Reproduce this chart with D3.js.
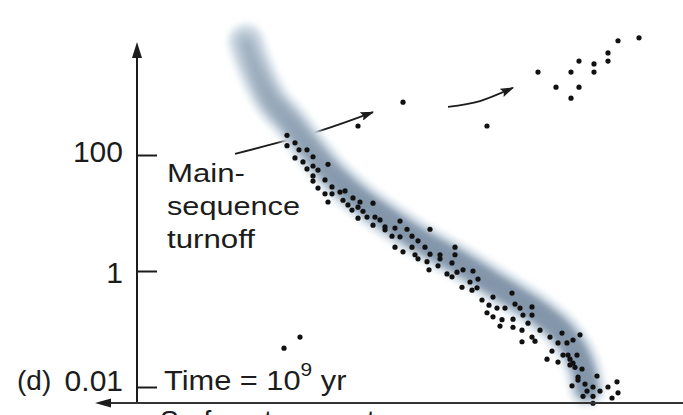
<!DOCTYPE html>
<html>
<head>
<meta charset="utf-8">
<script src="https://cdn.jsdelivr.net/npm/d3@7"></script>
<style>
  html, body { margin: 0; padding: 0; background: #fff; overflow: hidden; }
  svg { display: block; font-family: "Liberation Sans", Arial, Helvetica, sans-serif; }
</style>
</head>
<body>
<svg id="chart" width="683" height="415"></svg>
<script>
// Cluster H–R diagram at t = 1e9 yr.
// Abscissa: temperature index (0 = hot, left; 100 = cool, right).
// Ordinate: log10 of luminosity in solar units.

// main-sequence stars
const msTemp = [
  37.4, 37.4, 39.0, 39.8, 41.4, 39.0, 40.6, 42.6, 42.6, 41.4, 45.6, 43.6,
  42.6, 45.0, 42.6, 43.6, 46.4, 45.0, 46.4, 48.0, 49.0, 45.6, 48.6, 50.6,
  49.6, 52.0, 54.6, 51.6, 52.6, 50.4, 53.4, 55.0, 56.0, 51.6, 54.6, 57.0,
  60.0, 57.0, 59.0, 61.4, 58.4, 60.0, 62.4, 63.6, 66.0, 59.0, 60.6, 62.4,
  63.0, 65.0, 66.0, 63.6, 65.4, 68.0, 68.0, 71.0, 71.0, 70.4, 65.8, 67.6,
  69.4, 71.4, 70.4, 72.6, 74.6, 74.0, 75.6, 72.4, 74.4, 75.4,
  82.4, 78.6, 76.4, 77.8, 79.4, 81.0, 83.0, 84.0, 84.6, 86.4, 86.4, 77.4,
  78.6, 80.4, 82.6, 80.0, 82.6, 85.6, 84.4, 88.0, 84.4, 86.4, 87.0, 90.0,
  92.4, 91.6, 93.4, 94.6, 96.0, 90.4, 89.4, 91.6, 92.6, 93.6, 94.0, 95.4,
  94.6, 94.0, 95.0, 96.4, 95.6, 95.6, 99.4, 94.4, 97.0, 98.6, 97.4, 100.0,
  101.6, 103.4, 96.6, 98.6, 103.6, 102.4, 98.6
];
const msLogL = [
  2.34, 2.16, 2.21, 2.09, 2.09, 1.95, 1.88, 1.97, 1.81, 1.76, 1.84, 1.74,
  1.64, 1.57, 1.55, 1.43, 1.45, 1.33, 1.33, 1.36, 1.38, 1.19, 1.22, 1.26,
  1.14, 1.19, 1.17, 1.10, 1.03, 1.05, 0.93, 0.93, 0.88, 0.91, 0.79, 0.76,
  0.86, 0.71, 0.74, 0.72, 0.60, 0.59, 0.60, 0.52, 0.72, 0.41, 0.33, 0.41,
  0.28, 0.41, 0.29, 0.21, 0.16, 0.28, 0.21, 0.41, 0.28, 0.14, 0.02, 0.09,
  -0.05, -0.02, -0.10, 0.02, 0.00, -0.19, -0.14, -0.28, -0.33, -0.29,
  -0.38, -0.45, -0.50, -0.59, -0.64, -0.64, -0.57, -0.64, -0.76, -0.62, -0.76, -0.72,
  -0.79, -0.84, -0.83, -0.95, -0.97, -0.90, -1.02, -1.02, -1.22, -1.14, -1.21, -1.14,
  -1.07, -1.24, -1.24, -1.19, -1.10, -1.38, -1.52, -1.57, -1.45, -1.45, -1.52, -1.45,
  -1.59, -1.62, -1.66, -1.69, -1.83, -1.88, -1.81, -1.98, -1.95, -2.00, -2.07, -2.07,
  -2.00, -1.91, -2.16, -2.16, -2.10, -2.19, -2.28
];

// evolved stars (subgiants and giants)
const giantTemp = [60.6, 51.6, 77.4, 87.6, 91.2, 94.2, 95.8, 95.8, 94.2, 98.8, 98.8, 101.6, 101.6, 103.6, 107.8];
const giantLogL = [2.91, 2.50, 2.50, 3.43, 3.17, 3.43, 3.62, 3.17, 2.98, 3.57, 3.43, 3.76, 3.62, 3.97, 4.02];

// white dwarfs
const dwarfTemp = [36.8, 40.0];
const dwarfLogL = [-1.33, -1.14];

// zero-age main sequence (shaded band)
const zamsTemp = [29.2, 31.2, 34.2, 38.0, 42.0, 46.0, 51.0, 57.0, 64.0, 72.0, 80.0, 87.0, 92.0, 95.2, 96.8, 97.4];
const zamsLogL = [3.95, 3.47, 2.95, 2.57, 2.12, 1.71, 1.31, 0.93, 0.53, 0.14, -0.29, -0.67, -1.02, -1.40, -1.74, -2.02];

// luminosity ticks
const tickLogL = [-2, 0, 2];
const tickLabels = ["0.01", "1", "100"];

// annotation arrows (temperature index, log L)
const turnoffArrow = [[27.0, 2.02], [42.6, 2.38], [54.6, 2.74]];
const giantArrow = [[69.6, 2.83], [76.0, 2.93], [82.6, 3.16]];

const svg = d3.select("#chart");
const x = d3.scaleLinear().domain([0, 100]).range([100, 600]);
const y = d3.scaleLinear().domain([-2, 2]).range([387, 155]);

const axisX = 137, axisTop = 42, baseY = 403, baseLeft = 95;
const ink = "#1c1c1c";

const defs = svg.append("defs");
const blur = defs.append("filter").attr("id", "soft")
  .attr("x", "-20%").attr("y", "-20%").attr("width", "140%").attr("height", "140%");
blur.append("feGaussianBlur").attr("stdDeviation", 3.2);
const blur2 = defs.append("filter").attr("id", "soft2")
  .attr("x", "-20%").attr("y", "-20%").attr("width", "140%").attr("height", "140%");
blur2.append("feGaussianBlur").attr("stdDeviation", 4.5);

const grad = defs.append("linearGradient").attr("id", "bandGrad")
  .attr("gradientUnits", "userSpaceOnUse")
  .attr("x1", 0).attr("y1", 30).attr("x2", 0).attr("y2", 200);
grad.append("stop").attr("offset", 0).attr("stop-color", "#bccad6");
grad.append("stop").attr("offset", 1).attr("stop-color", "#8699ad");

const head = defs.append("marker").attr("id", "head")
  .attr("viewBox", "0 0 12 8").attr("refX", 11).attr("refY", 4)
  .attr("markerUnits", "userSpaceOnUse")
  .attr("markerWidth", 14).attr("markerHeight", 9).attr("orient", "auto");
head.append("path").attr("d", "M0,0 L12,4 L0,8 L2,4 Z").attr("fill", ink);

// annotation arrows (drawn under the band)
const arrowLine = d3.line().x(d => x(d[0])).y(d => y(d[1])).curve(d3.curveNatural);
[turnoffArrow, giantArrow].forEach(pts => {
  svg.append("path").attr("d", arrowLine(pts))
    .attr("fill", "none").attr("stroke", ink).attr("stroke-width", 1.8)
    .attr("marker-end", "url(#head)");
});

// shaded zero-age main sequence
const bandLine = d3.line()
  .x((d, i) => x(zamsTemp[i])).y((d, i) => y(zamsLogL[i]))
  .curve(d3.curveCatmullRom);
const bandPath = bandLine(zamsTemp);
svg.append("path").attr("d", bandPath)
  .attr("fill", "none").attr("stroke", "#d6e0e8").attr("stroke-width", 36)
  .attr("stroke-linecap", "round").attr("filter", "url(#soft)");
svg.append("path").attr("d", bandPath)
  .attr("fill", "none").attr("stroke", "url(#bandGrad)").attr("stroke-width", 23)
  .attr("stroke-linecap", "round").attr("filter", "url(#soft)");
svg.append("path").attr("d", bandPath)
  .attr("fill", "none").attr("stroke", "#7b8fa3").attr("stroke-width", 8)
  .attr("stroke-opacity", 0.5)
  .attr("stroke-linecap", "round").attr("filter", "url(#soft2)");

// stars
const stars = [
  ...msTemp.map((t, i) => [t, msLogL[i]]),
  ...giantTemp.map((t, i) => [t, giantLogL[i]]),
  ...dwarfTemp.map((t, i) => [t, dwarfLogL[i]])
];
svg.append("g").selectAll("circle").data(stars).join("circle")
  .attr("cx", d => x(d[0])).attr("cy", d => y(d[1]))
  .attr("r", 2.6).attr("fill", "#111");

// luminosity axis
const yAxis = d3.axisLeft(y).tickValues(tickLogL)
  .tickFormat((d, i) => tickLabels[i])
  .tickSizeInner(-20).tickSizeOuter(0).tickPadding(14);
const gy = svg.append("g").attr("transform", `translate(${axisX},0)`).call(yAxis);
gy.select(".domain").remove();
gy.selectAll(".tick line").attr("stroke", ink).attr("stroke-width", 2);
const labelShift = { "-2": -7, "0": 1, "2": -4 };
gy.selectAll(".tick text")
  .attr("fill", ink).attr("font-size", 30)
  .attr("font-family", '"Liberation Sans", Arial, sans-serif')
  .attr("dy", d => (labelShift[d] + 10.5) + "px");

svg.append("line").attr("x1", axisX).attr("x2", axisX)
  .attr("y1", baseY).attr("y2", axisTop + 10)
  .attr("stroke", ink).attr("stroke-width", 2);
svg.append("path")
  .attr("d", `M${axisX},${axisTop} L${axisX + 5},${axisTop + 16} L${axisX - 5},${axisTop + 16} Z`)
  .attr("fill", ink);

// temperature axis
svg.append("line").attr("x1", baseLeft + 10).attr("x2", 683)
  .attr("y1", baseY).attr("y2", baseY)
  .attr("stroke", "#333").attr("stroke-width", 2.2);
svg.append("path")
  .attr("d", `M${baseLeft},${baseY} L${baseLeft + 16},${baseY - 4.5} L${baseLeft + 16},${baseY + 4.5} Z`)
  .attr("fill", ink);
svg.append("text").attr("x", 160).attr("y", 430)
  .attr("font-size", 28).attr("fill", ink)
  .text("Surface temperature");

// labels
svg.append("text").attr("x", 17).attr("y", 390)
  .attr("font-size", 28).attr("fill", ink).text("(d)");

const tl = svg.append("text").attr("x", 0).attr("y", 0)
  .attr("transform", "translate(164,390) scale(1.1,1)")
  .attr("font-size", 28).attr("fill", ink);
tl.append("tspan").text("Time = 10");
tl.append("tspan").attr("font-size", 19).attr("dy", -14).text("9");
tl.append("tspan").attr("dy", 14).text(" yr");

const note = svg.append("text").attr("font-size", 26).attr("fill", ink);
[["Main-", 182, 78], ["sequence", 215, 133], ["turnoff", 248, 88]].forEach(([s, yy, w]) => {
  note.append("tspan").attr("x", 167).attr("y", yy)
    .attr("textLength", w).attr("lengthAdjust", "spacingAndGlyphs").text(s);
});
</script>
</body>
</html>
